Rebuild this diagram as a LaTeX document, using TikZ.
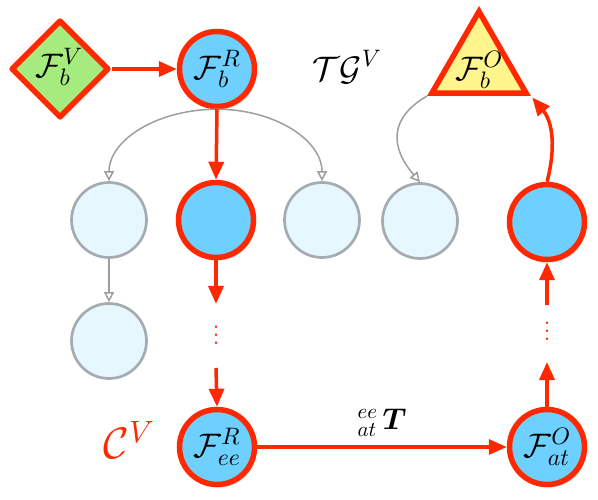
\documentclass[tikz,border=0pt]{standalone}
\usepackage{amsmath}
\DeclareFontFamily{OML}{cmm}{\skewchar\font'177}
\DeclareFontShape{OML}{cmm}{m}{it}{<-> cmmi10}{}
\DeclareFontShape{OML}{cmm}{b}{it}{<-> cmmib10}{}
\DeclareFontFamily{OMS}{cmsy}{\skewchar\font'60}
\DeclareFontShape{OMS}{cmsy}{m}{n}{<-> cmsy10}{}
\DeclareFontShape{OMS}{cmsy}{b}{n}{<-> cmbsy10}{}
\DeclareFontFamily{OT1}{cmr}{\hyphenchar\font45}
\DeclareFontShape{OT1}{cmr}{m}{n}{<-> cmr10}{}
\DeclareFontShape{OT1}{cmr}{bx}{n}{<-> cmbx10}{}
\usetikzlibrary{arrows.meta,shapes.geometric,shadows,calc}
\definecolor{rd}{RGB}{255,40,0}
\definecolor{bl}{RGB}{110,208,255}
\definecolor{lbl}{RGB}{230,247,255}
\definecolor{gb}{RGB}{165,172,176}
\definecolor{ga}{RGB}{158,158,158}
\definecolor{gr}{RGB}{165,235,125}
\definecolor{yl}{RGB}{255,245,140}
\newcommand{\reddots}{\vbox{\baselineskip=8pt\lineskiplimit=-20pt\hbox{.}\hbox{.}\hbox{.}}}
\begin{document}
\begin{tikzpicture}[x=1pt,y=-1pt,
  every node/.style={font=\fontsize{34}{40}\selectfont},
  shd/.style={drop shadow={opacity=0.3,shadow xshift=2pt,shadow yshift=-3pt}},
  rednode/.style={circle, draw=rd, line width=5.5pt, fill=bl, minimum size=75pt, inner sep=0pt, shd},
  lightnode/.style={circle, draw=gb, line width=2.7pt, fill=lbl, minimum size=75pt, inner sep=0pt},
  diamnode/.style={diamond, draw=rd, line width=5.5pt, fill=gr, minimum width=98pt, minimum height=98pt, inner sep=0pt, line join=round, shd},
  trinode/.style={regular polygon, regular polygon sides=3, draw=rd, line width=5.5pt, fill=yl, minimum size=109pt, inner sep=0pt, shd},
  rarrow/.style={draw=rd, line width=3.5pt, -{Triangle[length=18pt,width=15pt]}},
  garrow/.style={draw=ga, line width=1.5pt, -{Triangle[open,length=10pt,width=10pt]}},
  dotsnode/.style={text=rd, font=\fontsize{30}{8}\selectfont, inner sep=0pt}
]
\useasboundingbox (0,0) rectangle (598,500);

% nodes
\node[diamnode] (fv) at (60,69) {};
\node (fvt) at (59,67) {$\mathcal{F}_b^V$};
\node[rednode] (fbr) at (217,69) {$\mathcal{F}_b^R$};
\node (tg) at (347,67) {$\mathcal{TG}^V$};
\node[trinode] (fo) at (479,66) {};
\node (fot) at (479,70) {$\mathcal{F}_b^O$};

\node[lightnode] (c1) at (109,220) {};
\node[rednode]   (c2) at (216,220) {};
\node[lightnode] (c3) at (322,220) {};
\node[lightnode] (c4) at (420,221) {};
\node[rednode]   (c5) at (547,222) {};
\node[lightnode] (c6) at (109,341) {};

\node[rednode] (fee) at (217,447) {$\mathcal{F}_{ee}^R$};
\node[rednode] (fat) at (547,447) {$\mathcal{F}_{at}^O$};
\node[text=rd, font=\fontsize{44}{50}\selectfont] (cv) at (129,440) {$\mathcal{C}^V$};

\node[dotsnode] (v1) at (216,335) {\reddots};
\node[dotsnode] (v2) at (547,331) {\reddots};

\coordinate (d1) at (216,304);
\coordinate (d2) at (216,368);
\coordinate (d3) at (547,362);
\coordinate (d4) at (547,305);

% gray connectors
\draw[garrow] (fbr.south) .. controls +(-60,0) and +(0,-41) .. (c1.north);
\draw[garrow] (fbr.south) .. controls +(58,0) and +(0,-41) .. (c3.north);
\draw[garrow] (c1.south) -- (c6.north);
\draw[garrow] (fo.corner 2) .. controls +(-38,22) and +(-30,-35) .. (c4.north);

% red connectors
\draw[rarrow] (fv.east) -- (fbr.west);
\draw[rarrow] (fbr.south) -- (c2.north);
\draw[rarrow] (c2.south) -- (d1);
\draw[rarrow] (d2) -- (fee.north);
\draw[rarrow] (fee.east) -- node[midway, above=5pt, font=\fontsize{30}{36}\selectfont] (tl) {${}^{ee}_{at}\,\boldsymbol{T}$} (fat.west);
\draw[rarrow] (fat.north) -- (d3);
\draw[rarrow] (d4) -- (c5.south);
\draw[rarrow, shorten >=2pt] (c5.north) to[out=75,in=-50] (fo.corner 3);
\end{tikzpicture}
\end{document}
